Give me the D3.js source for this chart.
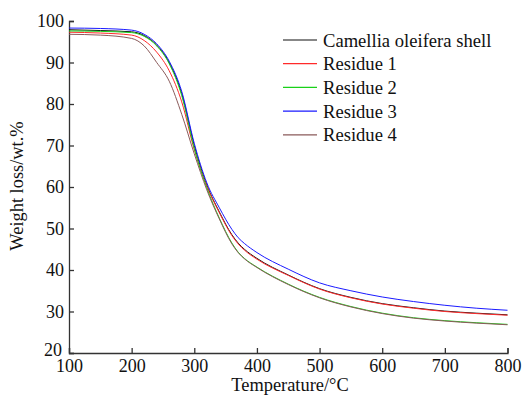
<!DOCTYPE html>
<html>
<head>
<meta charset="utf-8">
<script src="https://cdn.jsdelivr.net/npm/d3@7"></script>
<style>
  body { margin: 0; background: #fff; }
  svg text { font-family: "Liberation Serif", "Times New Roman", serif; fill: #111; }
</style>
</head>
<body>
<svg width="528" height="405"></svg>
<script>
// temperature grid (°C)
const temps = [100, 150, 200, 220, 240, 260, 280, 300, 320, 340, 360, 370, 380, 400, 450, 500, 550, 600, 650, 700, 750, 800];

// weight (wt.%)
const shell    = [97.9, 97.7, 97.4, 96.5, 94.2, 90.0, 82.5, 70.0, 60.5, 54.0, 48.5, 46.5, 45.0, 42.8, 38.8, 35.5, 33.4, 31.9, 30.9, 30.1, 29.6, 29.2];
const residue1 = [97.3, 97.1, 96.6, 95.3, 92.5, 88.0, 80.5, 69.0, 60.2, 53.8, 48.3, 46.3, 44.8, 42.6, 38.7, 35.4, 33.3, 31.8, 30.8, 30.0, 29.5, 29.1];
const residue2 = [97.6, 97.5, 97.2, 96.3, 94.0, 89.7, 82.0, 69.3, 59.8, 52.5, 46.5, 44.3, 42.8, 40.7, 36.6, 33.4, 31.2, 29.6, 28.5, 27.8, 27.3, 26.9];
const residue3 = [98.3, 98.2, 97.8, 96.8, 94.5, 90.3, 83.0, 70.5, 61.0, 55.0, 49.8, 47.8, 46.4, 44.2, 40.2, 36.9, 35.0, 33.5, 32.4, 31.5, 30.8, 30.3];
const residue4 = [96.8, 96.6, 95.8, 94.0, 90.0, 85.5, 77.5, 68.0, 59.3, 52.3, 46.3, 44.2, 42.7, 40.6, 36.5, 33.3, 31.1, 29.5, 28.4, 27.7, 27.2, 26.8];

const names  = ["Camellia oleifera shell", "Residue 1", "Residue 2", "Residue 3", "Residue 4"];
const colors = ["#111111", "#ff2a2a", "#19d119", "#1a1aff", "#8a5a5a"];
const xTicks = [100, 200, 300, 400, 500, 600, 700, 800];
const yTicks = [20, 30, 40, 50, 60, 70, 80, 90, 100];

const series = [shell, residue1, residue2, residue3, residue4];

const svg = d3.select("svg");
const margin = { left: 69, right: 20, top: 21, bottom: 52 };
const width = 528, height = 405;

const x = d3.scaleLinear().domain([100, 800]).range([margin.left, width - margin.right - 0.5]);
const y = d3.scaleLinear().domain([20, 100]).range([height - margin.bottom, margin.top]);

// axes with inward ticks
const xAxis = svg.append("g")
  .attr("transform", `translate(0,${y(20)})`)
  .call(d3.axisBottom(x).tickValues(xTicks).tickSize(-5).tickPadding(3).tickFormat(d3.format("d")));
const yAxis = svg.append("g")
  .attr("transform", `translate(${x(100)},0)`)
  .call(d3.axisLeft(y).tickValues(yTicks).tickSize(-5).tickPadding(5).tickFormat(d3.format("d")));

[xAxis, yAxis].forEach(g => {
  g.select(".domain").attr("stroke", "#333").attr("stroke-width", 1.3);
  g.selectAll(".tick line").attr("stroke", "#333").attr("stroke-width", 1.3);
  g.selectAll(".tick text").attr("font-size", 18).attr("fill", "#111")
    .style("font-family", '"Liberation Serif", serif');
});
xAxis.selectAll(".tick text").attr("dy", "0.9em");
// keep the bottom y label clear of the first x label
yAxis.selectAll(".tick text").filter(d => d === 20).attr("dy", "0.12em").attr("x", -7);

// lines
const line = d3.line()
  .x((d, i) => x(temps[i]))
  .y(d => y(d))
  .curve(d3.curveMonotoneX);

series.forEach((s, k) => {
  svg.append("path")
    .datum(s)
    .attr("fill", "none")
    .attr("stroke", colors[k])
    .attr("stroke-width", 1)
    .attr("d", line);
});

// legend
const legend = svg.append("g").attr("transform", "translate(283,40)");
names.forEach((n, k) => {
  const row = legend.append("g").attr("transform", `translate(0,${k * 23.7})`);
  row.append("line").attr("x1", 0).attr("x2", 34).attr("y1", 0).attr("y2", 0)
    .attr("stroke", colors[k]).attr("stroke-width", 1.2);
  row.append("text").attr("x", 40).attr("y", 0).attr("dy", "0.35em")
    .attr("font-size", 18.6).text(n);
});

// axis titles
svg.append("text")
  .attr("x", 290).attr("y", 391)
  .attr("text-anchor", "middle")
  .attr("font-size", 18.4)
  .text("Temperature/°C");

svg.append("text")
  .attr("transform", `translate(23,${186}) rotate(-90)`)
  .attr("text-anchor", "middle")
  .attr("font-size", 18.4)
  .text("Weight loss/wt.%");
</script>
</body>
</html>
